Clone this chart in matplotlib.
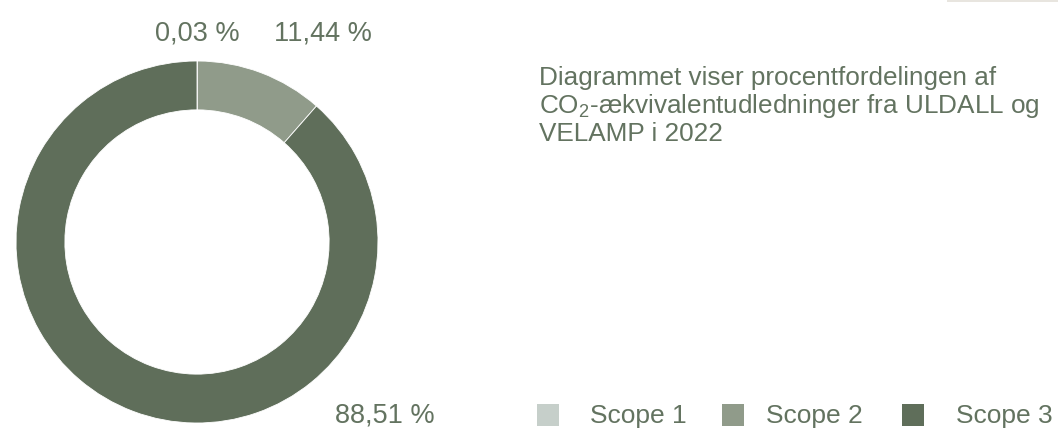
import matplotlib
matplotlib.use("Agg")
import matplotlib.pyplot as plt
from matplotlib.patches import Rectangle

plt.rcParams['font.family'] = ['Liberation Sans', 'DejaVu Sans']
plt.rcParams['mathtext.fontset'] = 'custom'
plt.rcParams['mathtext.rm'] = 'Liberation Sans'
plt.rcParams['mathtext.it'] = 'Liberation Sans'

labels = ['Scope 1', 'Scope 2', 'Scope 3']
shares = [0.03, 11.44, 88.51]
share_texts = ['0,03 %', '11,44 %', '88,51 %']
colors = ['#c6cfca', '#909b8a', '#5f6e5a']
text_color = '#637360'

W, H = 1058, 431
fig = plt.figure(figsize=(W / 100, H / 100), dpi=100)
ax = fig.add_axes([0, 0, 1, 1])

# donut, centre and radius in pixel units
cx, cy, r = 197, H - 243, 181
ax.pie(shares, colors=colors, startangle=90, counterclock=False,
       center=(cx, cy), radius=r,
       wedgeprops=dict(width=r * 0.27, edgecolor='white', linewidth=0.6))

# percentage labels
lab_fs = 19.5
ax.text(197, H - 33, share_texts[0], color=text_color, fontsize=lab_fs,
        ha='center', va='center')
ax.text(323, H - 33, share_texts[1], color=text_color, fontsize=lab_fs,
        ha='center', va='center')
ax.text(385, H - 416, share_texts[2], color=text_color, fontsize=lab_fs,
        ha='center', va='center')

# description
ax.text(539, H - 66,
        'Diagrammet viser procentfordelingen af\n'
        'CO$_{\\mathrm{2}}$-ækvivalentudledninger fra ULDALL og\n'
        'VELAMP i 2022',
        color=text_color, fontsize=18.8, ha='left', va='top', linespacing=1.09)

# legend
sq_x = [537, 722, 902]
txt_x = [590, 766, 956]
for sx, tx, lab, col in zip(sq_x, txt_x, labels, colors):
    ax.add_patch(Rectangle((sx, H - 427), 22, 22, color=col, lw=0))
    ax.text(tx, H - 416, lab, color=text_color, fontsize=19,
            ha='left', va='center')

# small grey strip top right
ax.add_patch(Rectangle((947, H - 3), 111, 3, color='#e8e5df', lw=0))

ax.set_xlim(0, W)
ax.set_ylim(0, H)
ax.set_aspect('equal')
ax.axis('off')

fig.savefig('out.png', dpi=100, facecolor='white')
